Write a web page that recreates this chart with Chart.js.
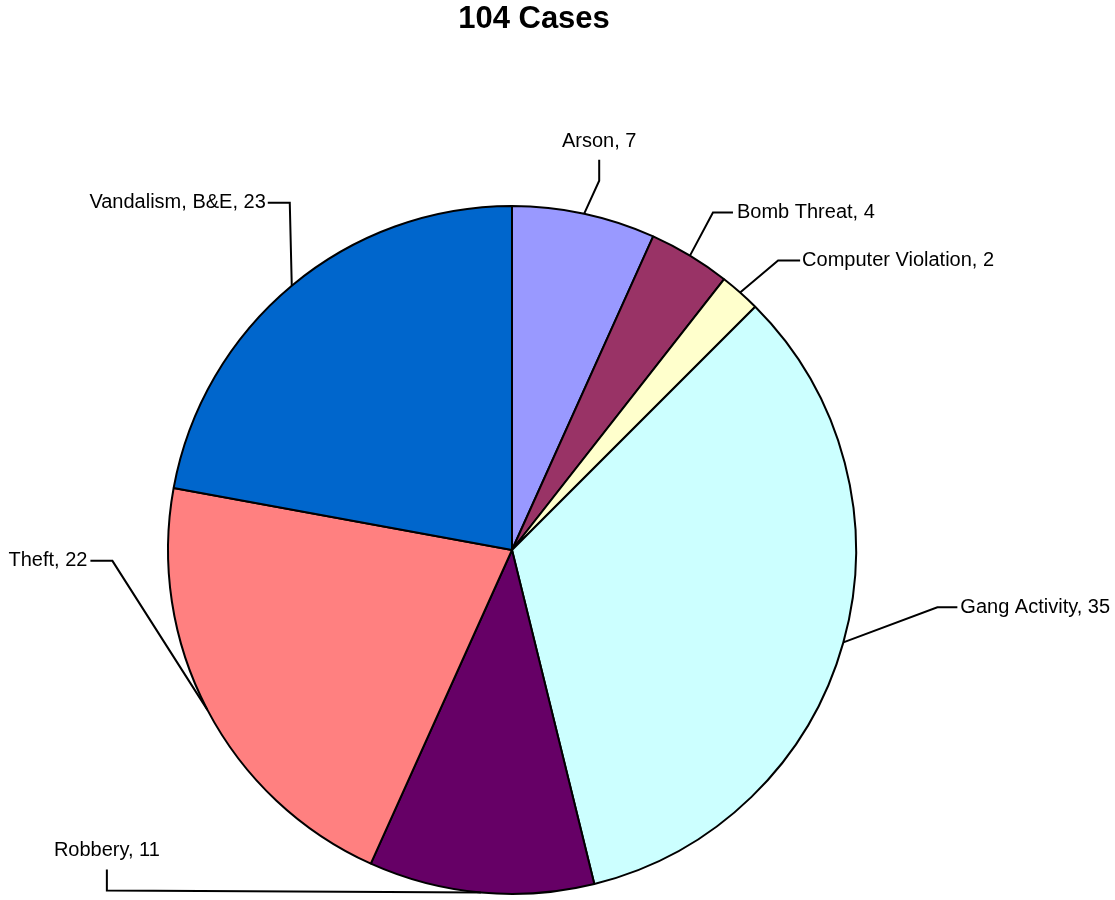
<!DOCTYPE html>
<html>
<head>
<meta charset="utf-8">
<title>104 Cases</title>
<script src="https://cdn.jsdelivr.net/npm/chart.js@4/dist/chart.umd.min.js"></script>
<style>
	body { margin: 0; background: #fff; }
	#wrap { width: 1115px; height: 900px; }
</style>
</head>
<body>
<div id="wrap"><canvas id="mycanvas" width="1115" height="900"></canvas></div>
<script>
var chartTitle = "104 Cases";
var categories = ["Arson", "Bomb Threat", "Computer Violation", "Gang Activity", "Robbery", "Theft", "Vandalism, B&E"];
var cases = [7, 4, 2, 35, 11, 22, 23];
var colors = ["#9999FF", "#993366", "#FFFFCC", "#CCFFFF", "#660066", "#FF8080", "#0066CC"];

// leader line layout for each label: bend offset from slice edge, then a short run
var leaders = [
	{dx: 15, dy: -33, dir: "up", len: 21, gap: 18},
	{dx: 23, dy: -43, dir: "right", len: 20, gap: 4},
	{dx: 38, dy: -32, dir: "right", len: 22, gap: 2},
	{dx: 94, dy: -35, dir: "right", len: 20, gap: 3},
	{dx: -374, dy: -2, dir: "up", len: 21, gap: 19},
	{dx: -95, dy: -149, dir: "left", len: 22, gap: 3},
	{dx: -2, dy: -83, dir: "left", len: 22, gap: 2}
];

var FONT = "'Liberation Sans', Arial, sans-serif";

var pieLabels = {
	id: "pieLabels",
	afterDraw: function(chart) {
		var ctx = chart.ctx;
		var arcs = chart.getDatasetMeta(0).data;
		ctx.save();

		// title
		ctx.fillStyle = "#000";
		ctx.font = "bold 31px " + FONT;
		ctx.textAlign = "center";
		ctx.textBaseline = "middle";
		ctx.fillText(chartTitle, 534, 19);

		ctx.font = "20px " + FONT;
		ctx.strokeStyle = "#000";
		ctx.lineWidth = 2;
		ctx.lineJoin = "miter";

		for (var i = 0; i < arcs.length; i++) {
			var p = arcs[i].getProps(["x", "y", "startAngle", "endAngle", "outerRadius"], true);
			var mid = (p.startAngle + p.endAngle) / 2;
			var ex = p.x + Math.cos(mid) * p.outerRadius;
			var ey = p.y + Math.sin(mid) * p.outerRadius;
			var l = leaders[i];
			var bx = ex + l.dx, by = ey + l.dy;
			var cx = bx, cy = by, tx, ty;
			if (l.dir == "up") {
				cy = by - l.len;
				tx = cx; ty = cy - l.gap;
				ctx.textAlign = "center";
			} else if (l.dir == "right") {
				cx = bx + l.len;
				tx = cx + l.gap; ty = cy;
				ctx.textAlign = "left";
			} else {
				cx = bx - l.len;
				tx = cx - l.gap; ty = cy;
				ctx.textAlign = "right";
			}
			ctx.beginPath();
			ctx.moveTo(ex, ey);
			ctx.lineTo(bx, by);
			ctx.lineTo(cx, cy);
			ctx.stroke();
			ctx.fillText(categories[i] + ", " + cases[i], tx, ty);
		}
		ctx.restore();
	}
};

var chartdata = {
	labels: categories,
	datasets: [
		{
			data: cases,
			backgroundColor: colors,
			borderColor: "#000",
			borderWidth: 2,
			hoverOffset: 0
		}
	]
};

var ctx = document.getElementById("mycanvas");

var PieGraph = new Chart(ctx, {
	type: "pie",
	data: chartdata,
	options: {
		responsive: false,
		animation: false,
		events: [],
		radius: 344,
		layout: {
			padding: {top: 200, right: 91, bottom: 0, left: 0}
		},
		plugins: {
			legend: {display: false},
			title: {display: false},
			tooltip: {enabled: false}
		}
	},
	plugins: [pieLabels]
});
</script>
</body>
</html>
